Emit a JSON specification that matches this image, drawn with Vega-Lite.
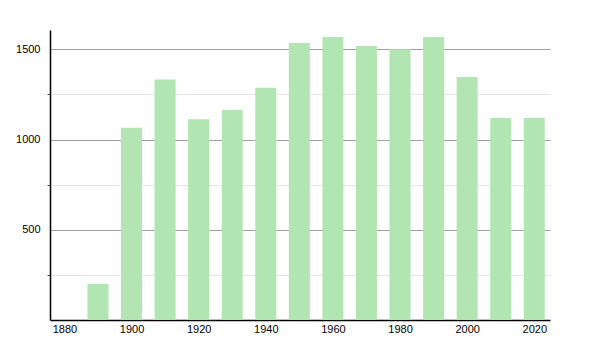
{
  "$schema": "https://vega.github.io/schema/vega-lite/v6.json",
  "width": 500,
  "height": 290,
  "autosize": "none",
  "padding": {"left": 50, "top": 30, "right": 50, "bottom": 30},
  "background": "white",
  "config": {"view": {"stroke": null}, "font": "Liberation Sans"},
  "data": {"values": [
    {"year": 1890, "pop": 200},
    {"year": 1900, "pop": 1065},
    {"year": 1910, "pop": 1333},
    {"year": 1920, "pop": 1113},
    {"year": 1930, "pop": 1163},
    {"year": 1940, "pop": 1287},
    {"year": 1950, "pop": 1535},
    {"year": 1960, "pop": 1568},
    {"year": 1970, "pop": 1518},
    {"year": 1980, "pop": 1500},
    {"year": 1990, "pop": 1568},
    {"year": 2000, "pop": 1346},
    {"year": 2010, "pop": 1119},
    {"year": 2020, "pop": 1119}
  ]},
  "mark": {"type": "bar", "size": 21, "color": "#b1e5b1"},
  "encoding": {
    "x": {
      "field": "year", "type": "quantitative",
      "scale": {"domain": [1877.2, 2023.2], "nice": false, "zero": false},
      "axis": {
        "title": null, "values": [1880, 1900, 1920, 1940, 1960, 1980, 2000, 2020],
        "format": "d", "grid": false, "ticks": false, "labelPadding": 3,
        "domainColor": "black", "domainWidth": 1.5, "labelColor": "#000", "labelFontSize": 11,
        "labelFlush": false
      }
    },
    "y": {
      "field": "pop", "type": "quantitative",
      "scale": {"domain": [0, 1607], "nice": false},
      "axis": {
        "title": null,
        "values": [250, 500, 750, 1000, 1250, 1500],
        "labelExpr": "datum.value % 500 === 0 ? datum.label : ''",
        "format": "d",
        "grid": true,
        "gridColor": {"condition": {"test": "datum.value % 500 === 0", "value": "#a0a0a0"}, "value": "#e4e4e4"},
        "tickColor": {"condition": {"test": "datum.value % 500 === 0", "value": "transparent"}, "value": "#444"},
        "tickSize": 3,
        "labelPadding": 7,
        "domainColor": "black", "domainWidth": 1.5, "labelColor": "#000", "labelFontSize": 11
      }
    }
  }
}
